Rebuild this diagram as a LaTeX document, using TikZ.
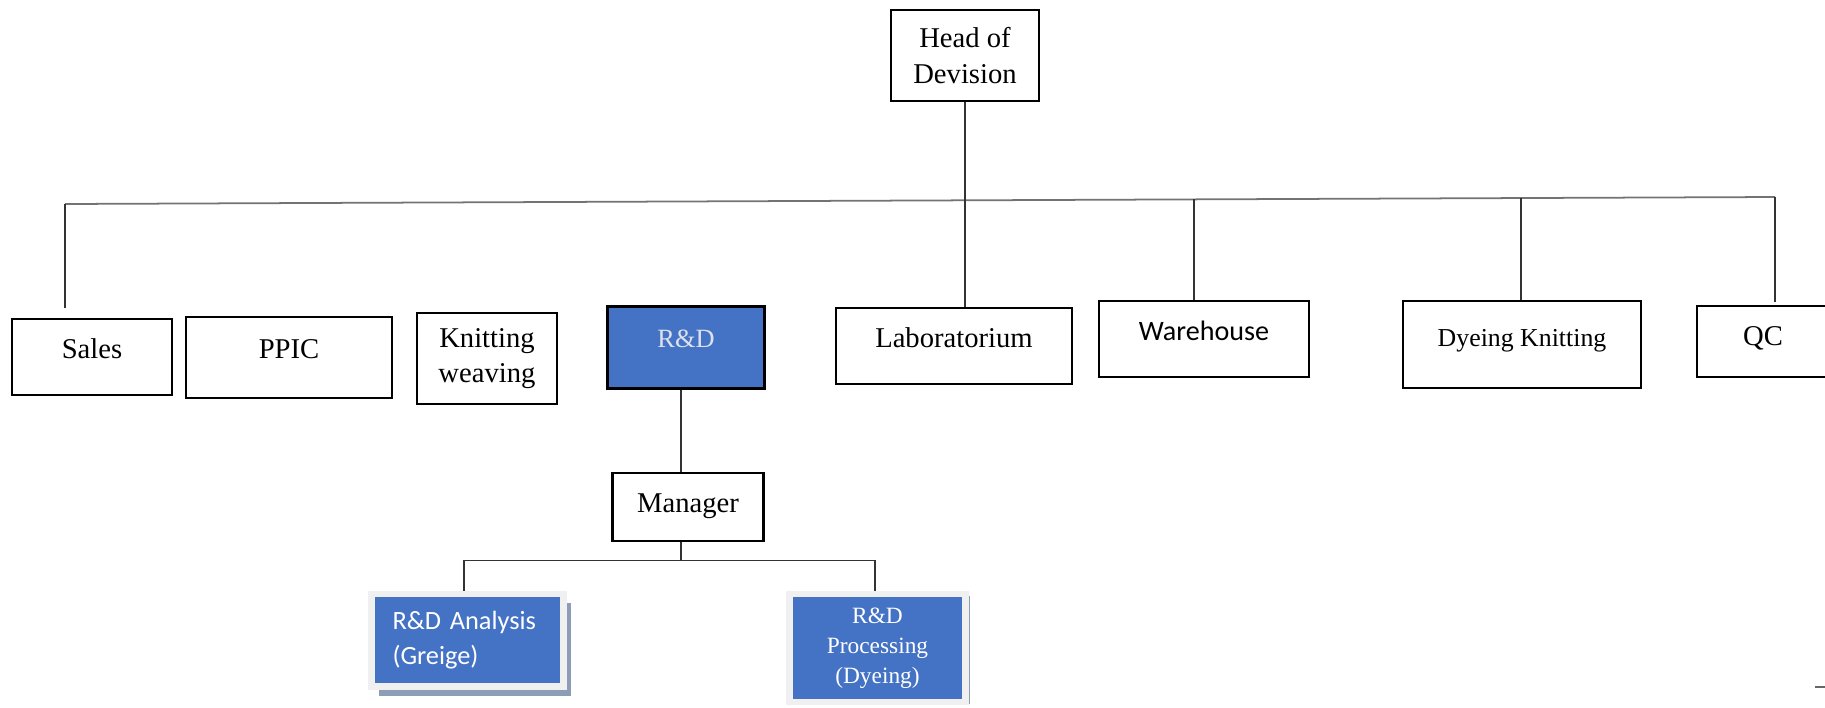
\documentclass[tikz,border=0pt]{standalone}
\usepackage{fontspec}
\setmainfont{Liberation Serif}
\newfontfamily\calibri{Carlito}
\usetikzlibrary{shadows}
\definecolor{rdblue}{HTML}{4472C4}
\definecolor{rdtext}{HTML}{DCE1EC}
\definecolor{framegrey}{HTML}{F0F0F0}
\definecolor{shadowblue}{HTML}{8E9DB6}
\tikzset{
  unit/.style = {draw, line width=1.4pt, inner sep=0pt, align=center,
    font=\fontsize{16.3}{20}\selectfont},
  box/.style 2 args = {minimum width=#1*0.02cm, minimum height=#2*0.02cm},
  lift/.style = {text height=10.8pt, text depth=#1},
  subunit/.style = {draw=framegrey, line width=0.13cm, fill=rdblue, text=white,
    inner sep=0pt},
  link/.style = {draw=black!80, line width=0.7pt},
  bus/.style = {draw=black!55, line width=1pt}
}

\begin{document}
\begin{tikzpicture}[x=0.02cm, y=-0.02cm]
  \useasboundingbox (0,0) rectangle (1825,707);

  % Head
  \node[unit, box={148}{91}] (head) at (965,55.5) {Head of\\Devision};

  % Departments
  \node[unit, box={160}{76}, lift=9.1pt] (sales) at (92,357) {Sales};
  \node[unit, box={206}{81}, lift=9.6pt] (ppic) at (289,357.5) {PPIC};
  \node[unit, box={140}{91}] (knit) at (487,358.5) {Knitting\\weaving};
  \node[unit, box={157}{82}, lift=11.4pt, fill=rdblue, text=rdtext,
    font=\fontsize{15}{18}\selectfont] (rnd) at (686,347.6) {R\&D};
  \node[unit, box={236}{76}, lift=9.1pt] (lab) at (954,346) {Laboratorium};
  \node[unit, box={210}{76}, lift=9.1pt, font=\calibri\fontsize{16}{18}\selectfont] (ware) at (1204,339) {Warehouse};
  \node[unit, box={238}{87}, lift=9.1pt, font=\fontsize{14.7}{18}\selectfont] (dye) at (1522,344.5) {Dyeing Knitting};
  \node[unit, box={132}{71}, lift=5.7pt] (qc) at (1763,341.5) {QC};

  % R&D branch
  \node[unit, box={151}{68}, lift=4.6pt] (mgr) at (688,507) {Manager};
  \node[subunit, box={192}{92.5}, text width=3cm, align=left,
    font=\calibri\fontsize{15}{19.5}\selectfont,
    drop shadow={shadow xshift=0.14cm, shadow yshift=-0.19cm, fill=shadowblue, opacity=1}]
    (ana) at (467.5,640) {R\&D Analysis\\(Greige)};
  \node[subunit, box={176}{108}, align=center,
    font=\fontsize{13.3}{17.2}\selectfont,
    drop shadow={shadow xshift=0.09cm, shadow yshift=-0.04cm, fill=shadowblue, opacity=1}]
    (proc) at (877.5,648) {R\&D\\Processing\\(Dyeing)};

  % Bus and drops
  \coordinate (busL) at (65,204);
  \coordinate (busR) at (1775,197);
  \coordinate (salesTop) at (65,308);
  \coordinate (qcTop) at (1775,302);
  \coordinate (wareJ) at (1194,199.4);
  \coordinate (dyeJ) at (1521,198);
  \draw[bus] (busL) -- (busR);
  \draw[link] (head.south) -- (head.south |- lab.north);
  \draw[link] (busL) -- (salesTop);
  \draw[link] (wareJ) -- (wareJ |- ware.north);
  \draw[link] (dyeJ) -- (dyeJ |- dye.north);
  \draw[link] (busR) -- (qcTop);

  % R&D to manager and teams
  \coordinate (rdx) at (681,0);
  \coordinate (fork) at (681,560.5);
  \coordinate (forkL) at (464,560.5);
  \coordinate (forkR) at (875,560.5);
  \draw[link] (rnd.south -| rdx) -- (mgr.north -| rdx);
  \draw[link] (mgr.south -| rdx) -- (fork);
  \draw[link] (forkL |- ana.north) -- (forkL) -- (forkR) -- (forkR |- proc.north);

  % stray mark
  \draw[black!60, line width=1.2pt] (1815,687) -- (1825,687);

\end{tikzpicture}
\end{document}
